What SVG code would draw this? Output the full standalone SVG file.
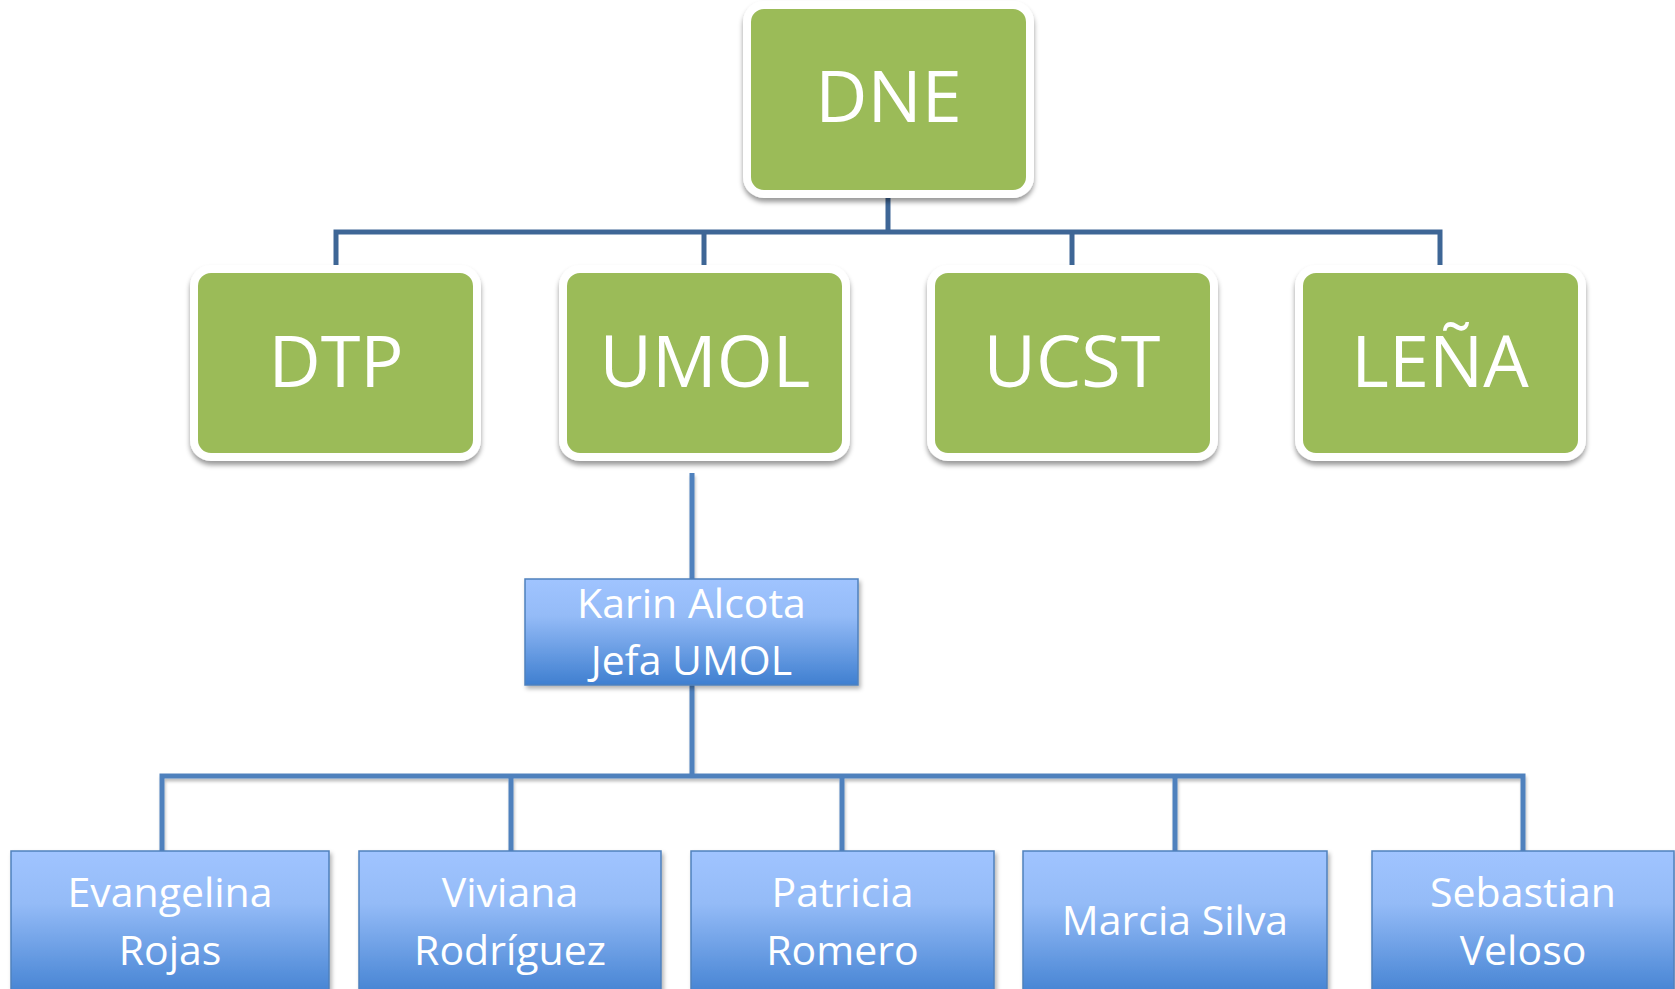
<svg xmlns="http://www.w3.org/2000/svg" width="1675" height="989" viewBox="0 0 1675 989">
<defs>
<linearGradient id="blueGrad" x1="0" y1="0" x2="0" y2="1">
<stop offset="0" stop-color="#a0c4ff"/>
<stop offset="0.35" stop-color="#94bbf7"/>
<stop offset="1" stop-color="#3f7fd0"/>
</linearGradient>
<filter id="greenShadow" x="-10%" y="-10%" width="120%" height="130%">
<feGaussianBlur in="SourceAlpha" stdDeviation="2.5"/>
<feOffset dx="0" dy="4" result="b"/>
<feFlood flood-color="#000" flood-opacity="0.4"/>
<feComposite in2="b" operator="in"/>
<feMerge><feMergeNode/><feMergeNode in="SourceGraphic"/></feMerge>
</filter>
<filter id="blueShadow" x="-10%" y="-10%" width="120%" height="130%">
<feGaussianBlur in="SourceAlpha" stdDeviation="2"/>
<feOffset dx="2" dy="3" result="b"/>
<feFlood flood-color="#000" flood-opacity="0.3"/>
<feComposite in2="b" operator="in"/>
<feMerge><feMergeNode/><feMergeNode in="SourceGraphic"/></feMerge>
</filter>
<filter id="lineShadow" x="-10%" y="-10%" width="120%" height="130%">
<feGaussianBlur in="SourceAlpha" stdDeviation="1.5"/>
<feOffset dx="1" dy="3" result="b"/>
<feFlood flood-color="#000" flood-opacity="0.25"/>
<feComposite in2="b" operator="in"/>
<feMerge><feMergeNode/><feMergeNode in="SourceGraphic"/></feMerge>
</filter>
</defs>
<style>
.g{fill:#9bbb59;stroke:#ffffff;stroke-width:8;filter:url(#greenShadow)}
.b{fill:url(#blueGrad);stroke:#4f81bd;stroke-width:1.5;filter:url(#blueShadow)}
.gt{font-family:"Open Sans","Liberation Sans",sans-serif;font-size:72px;fill:#ffffff;text-anchor:middle}
.bt{font-family:"Open Sans","Liberation Sans",sans-serif;font-size:41px;fill:#ffffff;text-anchor:middle}
.up{fill:none;stroke:#3e6696;stroke-width:5}
.lo{fill:none;stroke:#4f81bd;stroke-width:5;filter:url(#lineShadow)}
</style>
<g id="connectors">
<path class="up" d="M888 194 V232 M336 268 V232 H1440 V268 M704 232 V268 M1072 232 V268"/>
<path class="lo" d="M692 473 V579 M692 685 V776 M162 851 V776 H1523 V851 M511 776 V851 M842 776 V851 M1175 776 V851"/>
</g>
<g id="node-dne">
<rect class="g" x="747" y="5" width="283" height="189" rx="17"/>
<text class="gt" x="888.5" y="122">DNE</text>
</g>
<g id="node-dtp">
<rect class="g" x="194" y="269" width="283" height="188" rx="17"/>
<text class="gt" x="336" y="387">DTP</text>
</g>
<g id="node-umol">
<rect class="g" x="563" y="269" width="283" height="188" rx="17"/>
<text class="gt" x="705" y="387">UMOL</text>
</g>
<g id="node-ucst">
<rect class="g" x="931" y="269" width="283" height="188" rx="17"/>
<text class="gt" x="1072" y="387">UCST</text>
</g>
<g id="node-lena">
<rect class="g" x="1299" y="269" width="283" height="188" rx="17"/>
<text class="gt" x="1440" y="387">LEÑA</text>
</g>
<g id="node-karin">
<rect class="b" x="525" y="579" width="333" height="106"/>
<text class="bt" x="691.5" y="618">Karin Alcota</text>
<text class="bt" x="691.5" y="675">Jefa UMOL</text>
</g>
<g id="node-evangelina">
<rect class="b" x="11" y="851" width="318" height="150"/>
<text class="bt" x="170" y="907">Evangelina</text>
<text class="bt" x="170" y="965">Rojas</text>
</g>
<g id="node-viviana">
<rect class="b" x="359" y="851" width="302" height="150"/>
<text class="bt" x="510" y="907">Viviana</text>
<text class="bt" x="510" y="965">Rodríguez</text>
</g>
<g id="node-patricia">
<rect class="b" x="691" y="851" width="303" height="150"/>
<text class="bt" x="842.5" y="907">Patricia</text>
<text class="bt" x="842.5" y="965">Romero</text>
</g>
<g id="node-marcia">
<rect class="b" x="1023" y="851" width="304" height="150"/>
<text class="bt" x="1175" y="935">Marcia Silva</text>
</g>
<g id="node-sebastian">
<rect class="b" x="1372" y="851" width="302" height="150"/>
<text class="bt" x="1523" y="907">Sebastian</text>
<text class="bt" x="1523" y="965">Veloso</text>
</g>
</svg>
